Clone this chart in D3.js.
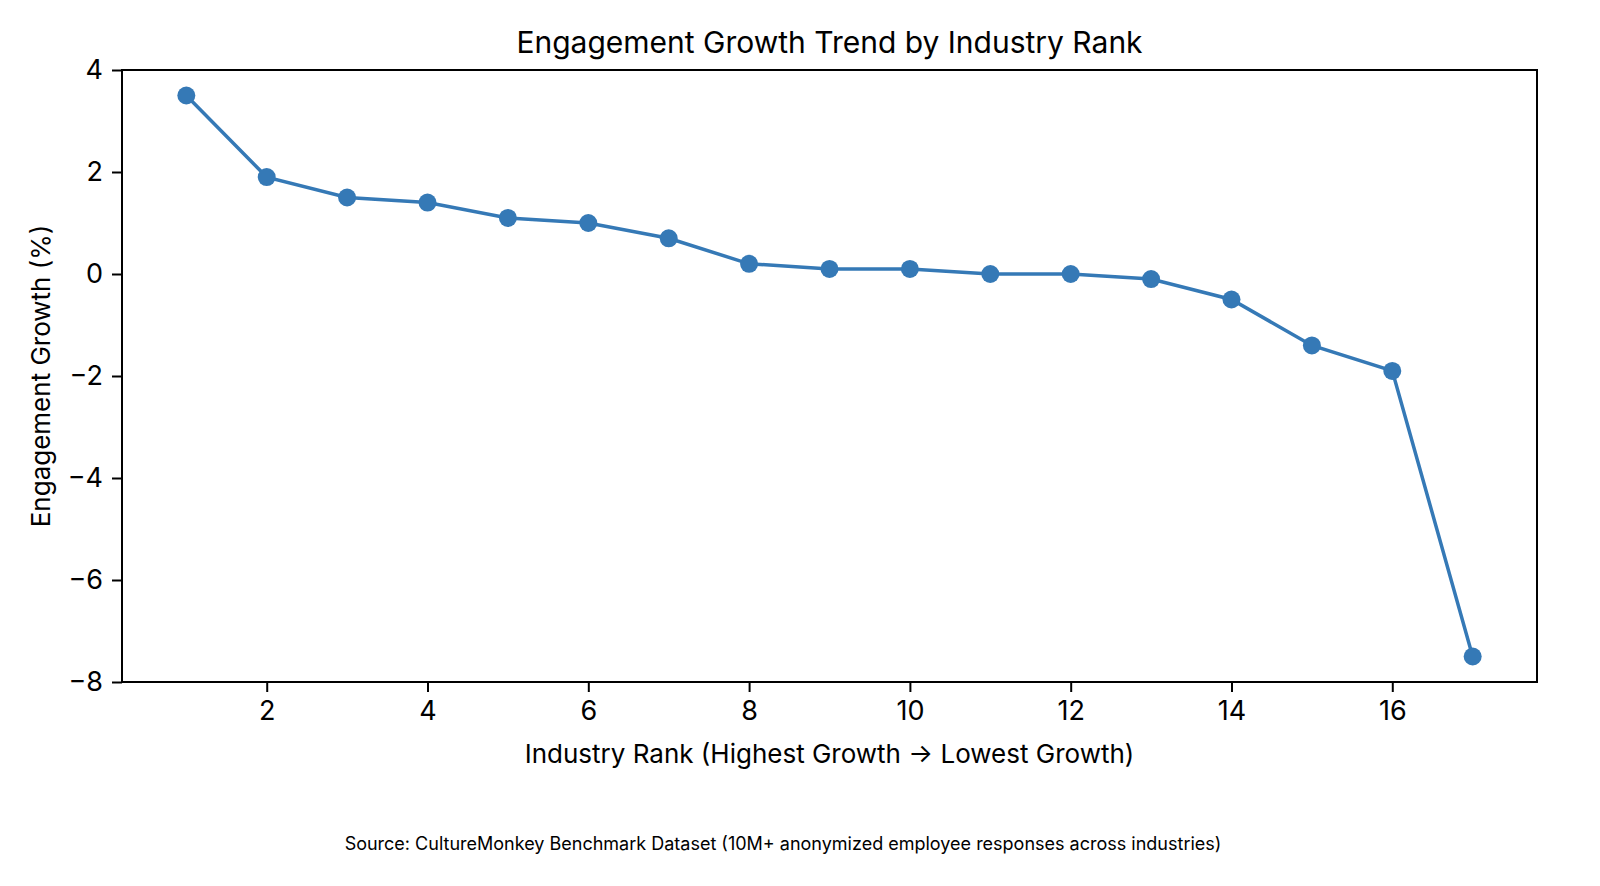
<!DOCTYPE html>
<html>
<head>
<meta charset="utf-8">
<script src="https://cdn.jsdelivr.net/npm/d3@7"></script>
<style>
  body { margin: 0; background: #fff; }
  text { font-family: Inter, "Open Sans", sans-serif; fill: #000; }
</style>
</head>
<body>
<script>
// data
const ranks = [1, 2, 3, 4, 5, 6, 7, 8, 9, 10, 11, 12, 13, 14, 15, 16, 17];
const growth = [3.5, 1.9, 1.5, 1.4, 1.1, 1.0, 0.7, 0.2, 0.1, 0.1, 0.0, 0.0, -0.1, -0.5, -1.4, -1.9, -7.5];
const xTicks = [2, 4, 6, 8, 10, 12, 14, 16];
const yTicks = [4, 2, 0, -2, -4, -6, -8];

const chartTitle = "Engagement Growth Trend by Industry Rank";
const xLabel = "Industry Rank (Highest Growth \u2192 Lowest Growth)";
const yLabel = "Engagement Growth (%)";
const source = "Source: CultureMonkey Benchmark Dataset (10M+ anonymized employee responses across industries)";

const w = 1600, h = 886;
const padL = 122, padR = 1537, padT = 70, padB = 682;
const color = "#3579b6";

const svg = d3.select("body").append("svg").attr("width", w).attr("height", h);

const xScale = d3.scaleLinear().domain([0.2, 17.8]).range([padL, padR]);
const yScale = d3.scaleLinear().domain([-8, 4]).range([padB, padT]);

// frame
svg.append("rect")
  .attr("x", padL).attr("y", padT)
  .attr("width", padR - padL).attr("height", padB - padT)
  .attr("fill", "none").attr("stroke", "#000").attr("stroke-width", 2);

// axes
const xAxis = d3.axisBottom(xScale).tickValues(xTicks).tickSize(10).tickPadding(9);
const gx = svg.append("g").attr("transform", "translate(0," + padB + ")").call(xAxis);
const yAxis = d3.axisLeft(yScale).tickValues(yTicks).tickSize(10).tickPadding(9)
  .tickFormat((d) => (d < 0 ? "\u2212" + Math.abs(d) : d));
const gy = svg.append("g").attr("transform", "translate(" + padL + ",0)").call(yAxis);

[gx, gy].forEach((g) => {
  g.select(".domain").remove();
  g.selectAll("line").attr("stroke", "#000").attr("stroke-width", 2);
  g.selectAll("text").style("font-size", "27px").style("font-family", "Inter, sans-serif").attr("fill", "#000");
});

// line
const line = d3.line().x((d, i) => xScale(ranks[i])).y((d) => yScale(d));
svg.append("path")
  .datum(growth)
  .attr("d", line)
  .attr("fill", "none")
  .attr("stroke", color)
  .attr("stroke-width", 3.5);

// dots
svg.selectAll("circle.dot")
  .data(growth)
  .enter()
  .append("circle")
  .attr("class", "dot")
  .attr("cx", (d, i) => xScale(ranks[i]))
  .attr("cy", (d) => yScale(d))
  .attr("r", 9)
  .attr("fill", color);

// texts
svg.append("text")
  .attr("x", (padL + padR) / 2).attr("y", 53)
  .attr("text-anchor", "middle")
  .style("font-size", "30px")
  .text(chartTitle);

svg.append("text")
  .attr("x", (padL + padR) / 2).attr("y", 763)
  .attr("text-anchor", "middle")
  .style("font-size", "26px")
  .text(xLabel);

svg.append("text")
  .attr("transform", "translate(50," + (padT + padB) / 2 + ") rotate(-90)")
  .attr("text-anchor", "middle")
  .style("font-size", "26px")
  .text(yLabel);

svg.append("text")
  .attr("x", 783).attr("y", 850)
  .attr("text-anchor", "middle")
  .style("font-size", "18px")
  .text(source);
</script>
</body>
</html>
